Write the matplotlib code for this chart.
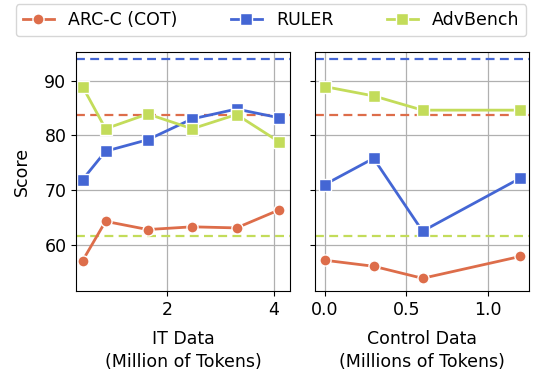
import numpy as np
import matplotlib
matplotlib.use("Agg")
import matplotlib.pyplot as plt

# values
it_x = [0.42, 0.85, 1.64, 2.47, 3.3, 4.1]
it_arc = [57.1, 64.3, 62.8, 63.3, 63.1, 66.4]
it_ruler = [71.9, 77.1, 79.2, 83.0, 84.8, 83.2]
it_adv = [88.9, 81.2, 83.9, 81.2, 83.8, 78.8]

ctrl_x = [0.0, 0.3, 0.6, 1.2]
ctrl_arc = [57.2, 56.1, 53.9, 57.9]
ctrl_ruler = [71.0, 75.8, 62.5, 72.2]
ctrl_adv = [88.9, 87.2, 84.6, 84.6]

base_arc = 83.8
base_ruler = 94.0
base_adv = 61.6

names = ["ARC-C (COT)", "RULER", "AdvBench"]
colors = ["#dd6d4a", "#4466d4", "#c3dc5a"]
markers = ["o", "s", "s"]

plt.rcParams["font.size"] = 12.5

fig = plt.figure(figsize=(5.4, 3.72), dpi=100)
ax1 = fig.add_axes([0.141, 0.218, 0.396, 0.642])
ax2 = fig.add_axes([0.583, 0.218, 0.396, 0.642], sharey=ax1)

panels = [
    (ax1, it_x, [it_arc, it_ruler, it_adv], "IT Data\n(Million of Tokens)"),
    (ax2, ctrl_x, [ctrl_arc, ctrl_ruler, ctrl_adv], "Control Data\n(Millions of Tokens)"),
]

for ax, xs, series, xlabel in panels:
    ax.grid(True, color="#b0b0b0", linewidth=0.9)
    ax.set_axisbelow(True)
    for base, c in zip([base_arc, base_ruler, base_adv], colors):
        ax.axhline(base, color=c, linestyle="--", linewidth=1.6, dashes=(4, 2.4))
    for ys, name, c, m in zip(series, names, colors, markers):
        ax.plot(xs, ys, color=c, marker=m, markersize=8, linewidth=2,
                markeredgecolor="white", markeredgewidth=1, label=name)
    ax.set_xlabel(xlabel, labelpad=8, linespacing=1.35)

ax1.set_ylim(51.6, 95.2)
ax1.set_yticks([60, 70, 80, 90])
ax1.set_xlim(0.3, 4.3)
ax1.set_xticks([2, 4])
ax1.set_ylabel("Score", labelpad=10)
ax2.set_xlim(-0.06, 1.25)
ax2.set_xticks([0.0, 0.5, 1.0])
ax2.tick_params(labelleft=False)

handles, labels = ax1.get_legend_handles_labels()
fig.legend(handles, labels, loc="lower left", ncol=3, mode="expand",
           bbox_to_anchor=(0.026, 0.898, 0.952, 0.09),
           frameon=True, borderaxespad=0.1, handlelength=1.8)

fig.savefig("out.png", dpi=100)
plt.close(fig)
